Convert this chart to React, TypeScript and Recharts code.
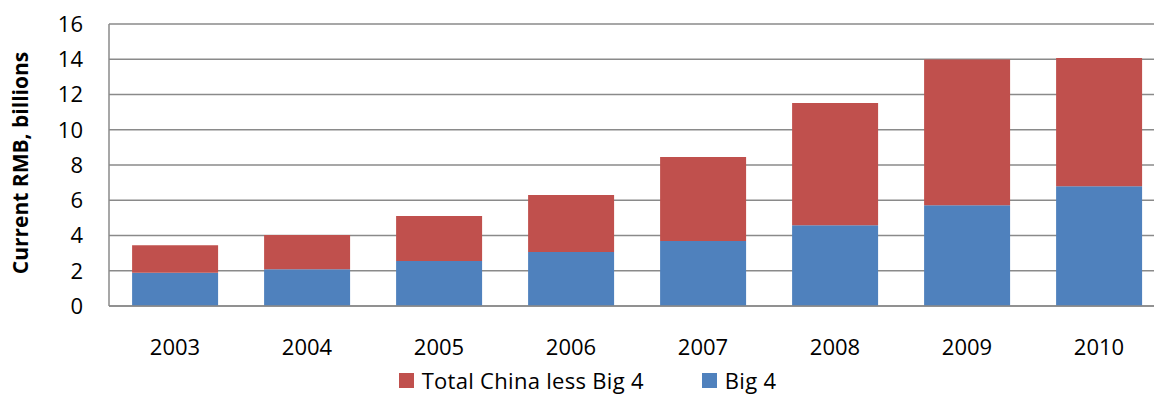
import { BarChart, Bar, XAxis, YAxis, CartesianGrid, Legend } from "recharts";

const years = ["2003", "2004", "2005", "2006", "2007", "2008", "2009", "2010"];
const big4 = [1.89, 2.08, 2.55, 3.06, 3.69, 4.58, 5.71, 6.79];
const restOfChina = [1.55, 1.95, 2.55, 3.24, 4.76, 6.94, 8.27, 7.28];
const yTicks = [0, 2, 4, 6, 8, 10, 12, 14, 16];

const RED = "#C0504D";
const BLUE = "#4F81BD";
const GRID = "#8a8a8a";
const FONT = "'Open Sans', sans-serif";

const data = years.map((year, i) => ({ year, big4: big4[i], rest: restOfChina[i] }));

const legendItems = [
  { label: "Total China less Big 4", color: RED },
  { label: "Big 4", color: BLUE },
];

function ChartLegend() {
  return (
    <div
      style={{
        display: "flex",
        justifyContent: "center",
        alignItems: "center",
        height: 30,
        fontFamily: FONT,
        fontSize: 22,
        color: "#000",
        paddingLeft: 10,
      }}
    >
      {legendItems.map((item, i) => (
        <div key={item.label} style={{ display: "flex", alignItems: "center", marginLeft: i ? 58 : 0 }}>
          <span style={{ width: 15, height: 15, background: item.color, marginRight: 8, display: "inline-block" }} />
          <span style={{ lineHeight: "30px", letterSpacing: 0.3 }}>{item.label}</span>
        </div>
      ))}
    </div>
  );
}

function YLabel(props: any) {
  const { viewBox } = props;
  const cy = viewBox.y + viewBox.height / 2 - 2;
  const cx = 28;
  return (
    <text
      x={cx}
      y={cy}
      transform={`rotate(-90, ${cx}, ${cy})`}
      textAnchor="middle"
      fontFamily={FONT}
      fontWeight="bold"
      fontSize={21}
      fill="#000"
    >
      Current RMB, billions
    </text>
  );
}

export default function App() {
  return (
    <div style={{ position: "absolute", left: 0, top: 0, width: 1154, height: 395, overflow: "hidden", background: "#fff" }}>
      <BarChart
        width={1165}
        height={395}
        data={data}
        margin={{ top: 24, right: 0, bottom: 0, left: 0 }}
        barCategoryGap="17.5%"
      >
        <CartesianGrid vertical={false} stroke={GRID} strokeWidth={1.5} />
        <XAxis
          dataKey="year"
          height={59}
          tickLine={false}
          tickSize={0}
          tickMargin={33}
          axisLine={{ stroke: GRID, strokeWidth: 1.5 }}
          tick={{ fill: "#000", fontSize: 22, fontFamily: FONT }}
        />
        <YAxis
          width={109}
          domain={[0, 16]}
          ticks={yTicks}
          interval={0}
          tickLine={false}
          tickSize={0}
          tickMargin={26}
          axisLine={{ stroke: GRID, strokeWidth: 1.5 }}
          tick={{ fill: "#000", fontSize: 22, fontFamily: FONT }}
          label={<YLabel />}
        />
        <Legend verticalAlign="bottom" height={30} content={<ChartLegend />} />
        <Bar dataKey="big4" name="Big 4" stackId="a" fill={BLUE} isAnimationActive={false} />
        <Bar dataKey="rest" name="Total China less Big 4" stackId="a" fill={RED} isAnimationActive={false} />
      </BarChart>
    </div>
  );
}
